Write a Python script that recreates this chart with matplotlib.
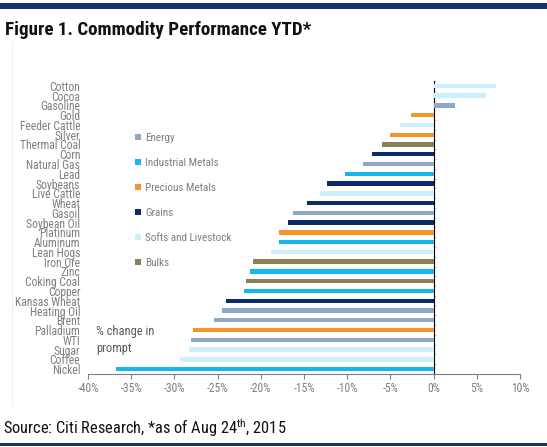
import matplotlib
matplotlib.use("Agg")
import matplotlib.pyplot as plt
from matplotlib.patches import Patch, Rectangle
from matplotlib import font_manager

names = {f.name for f in font_manager.fontManager.ttflist}
NARROW = next((n for n in ["Roboto Condensed", "PT Sans Narrow", "Archivo Narrow",
                           "Liberation Sans"] if n in names), "DejaVu Sans")
plt.rcParams['font.family'] = [NARROW, 'DejaVu Sans']
plt.rcParams['mathtext.fontset'] = 'custom'
plt.rcParams['mathtext.rm'] = NARROW

commodities = ["Cotton", "Cocoa", "Gasoline", "Gold", "Feeder Cattle", "Silver",
               "Thermal Coal", "Corn", "Natural Gas", "Lead", "Soybeans", "Live Cattle",
               "Wheat", "Gasoil", "Soybean Oil", "Platinum", "Aluminum", "Lean Hogs",
               "Iron Ore", "Zinc", "Coking Coal", "Copper", "Kansas Wheat", "Heating Oil",
               "Brent", "Palladium", "WTI", "Sugar", "Coffee", "Nickel"]
changes = [7.2, 6.1, 2.5, -2.6, -3.9, -5.1, -6.0, -7.1, -8.2, -10.2, -12.3, -13.1,
           -14.6, -16.3, -16.9, -17.9, -17.9, -18.8, -20.9, -21.3, -21.7, -21.9,
           -24.0, -24.5, -25.4, -27.8, -28.1, -28.3, -29.3, -36.8]
sectors = ["Softs and Livestock", "Softs and Livestock", "Energy", "Precious Metals",
           "Softs and Livestock", "Precious Metals", "Bulks", "Grains", "Energy",
           "Industrial Metals", "Grains", "Softs and Livestock", "Grains", "Energy",
           "Grains", "Precious Metals", "Industrial Metals", "Softs and Livestock",
           "Bulks", "Industrial Metals", "Bulks", "Industrial Metals", "Grains",
           "Energy", "Energy", "Precious Metals", "Energy", "Softs and Livestock",
           "Softs and Livestock", "Industrial Metals"]
legend_order = ["Energy", "Industrial Metals", "Precious Metals", "Grains",
                "Softs and Livestock", "Bulks"]
sector_colors = {"Energy": "#8FA8C8", "Industrial Metals": "#14B8EC",
                 "Precious Metals": "#F7932B", "Grains": "#0C2B6A",
                 "Softs and Livestock": "#CCF0FA", "Bulks": "#8C7E57"}
x_ticks = [-40, -35, -30, -25, -20, -15, -10, -5, 0, 5, 10]

W, H = 547, 447
fig = plt.figure(figsize=(W / 100, H / 100), dpi=100)

# top and bottom rules
fig.add_artist(Rectangle((0, 1 - 8.5 / H), 1, 5.5 / H, transform=fig.transFigure,
                         color="#17336F", lw=0))
fig.add_artist(Rectangle((0, 1 - 446 / H), 1, 3 / H, transform=fig.transFigure,
                         color="#17336F", lw=0))
fig.add_artist(plt.Line2D([12 / W, 12 / W], [1 - 42 / H, 1 - 405 / H],
                          transform=fig.transFigure, color="#EEEEEE", lw=0.8))

fig.text(5 / W, 1 - 30 / H, "Figure 1. Commodity Performance YTD*", fontsize=13.7,
         fontweight="bold", color="#111111", va="center", ha="left")
fig.text(3 / W, 1 - 428 / H, r"Source: Citi Research, *as of Aug 24$^{\mathrm{th}}$, 2015",
         fontsize=11.8, color="#111111", va="center", ha="left")

ax = fig.add_axes([88 / W, 1 - 374 / H, 432 / W, 293 / H])
y = list(range(len(commodities)))
ax.barh(y, changes, height=0.45, color=[sector_colors[s] for s in sectors])
ax.set_ylim(len(commodities) - 0.5, -0.5)
ax.set_xlim(-40, 10)
ax.set_xticks(x_ticks)
ax.set_xticklabels([f"{t}%" for t in x_ticks])
ax.set_yticks(y)
ax.set_yticklabels(commodities)
ax.tick_params(axis="y", length=0, pad=5.5, labelsize=8.4, labelcolor="#7F7F7F")
ax.tick_params(axis="x", length=3.5, width=0.8, color="#808080", pad=2.5,
               labelsize=8.3, labelcolor="#7F7F7F")
for s in ["top", "right", "left"]:
    ax.spines[s].set_visible(False)
ax.spines["bottom"].set_color("#808080")
ax.spines["bottom"].set_linewidth(0.8)

sec = ax.secondary_yaxis(0.8)
sec.set_yticks([])
sec.set_yticks([k + 0.5 for k in range(-1, len(commodities))], minor=True)
sec.tick_params(which="minor", length=1.5, width=0.5, color="#AAAAAA")
sec.spines["left"].set_color("#A0A0A0")
sec.spines["left"].set_linewidth(0.6)

handles = [Patch(facecolor=sector_colors[s], edgecolor="none") for s in legend_order]
leg = ax.legend(handles, legend_order, loc="upper left",
                bbox_to_anchor=(135 / W, 1 - 133 / H), bbox_transform=fig.transFigure,
                frameon=False, fontsize=8, handlelength=0.55, handleheight=0.55,
                handletextpad=0.35, labelspacing=1.35, borderpad=0, borderaxespad=0)
for t in leg.get_texts():
    t.set_color("#7F7F7F")

fig.text(96 / W, 1 - 340 / H, "% change in\nprompt", fontsize=9, color="#595959",
         va="center", ha="left", linespacing=1.35)

fig.savefig("out.png", dpi=100)
